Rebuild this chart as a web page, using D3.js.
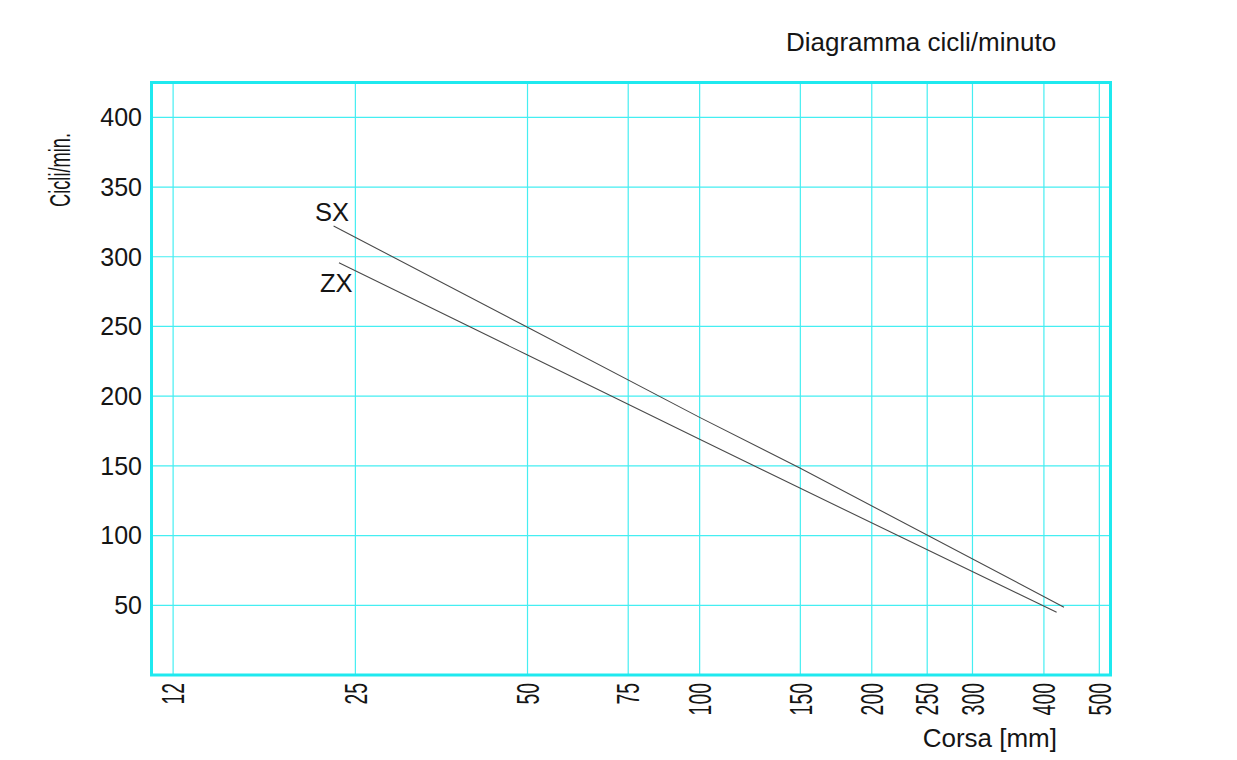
<!DOCTYPE html>
<html>
<head>
<meta charset="utf-8">
<script src="https://cdn.jsdelivr.net/npm/d3@7"></script>
<style>
  html, body { margin: 0; padding: 0; background: #ffffff; }
  svg { display: block; }
  text { font-family: "Liberation Sans", Arial, sans-serif; fill: #151515; }
</style>
</head>
<body>
<svg id="chart" width="1237" height="760"></svg>
<script>
// ---- data ----
const xTicks = [12, 25, 50, 75, 100, 150, 200, 250, 300, 400, 500];
const yTicks = [50, 100, 150, 200, 250, 300, 350, 400];
const sxStroke = [22.9, 50, 100, 150, 433.7];
const sxCycles = [322.1, 249.4, 184.8, 148.3, 48.6];
const zxStroke = [23.4, 50, 100, 150, 421];
const zxCycles = [295.7, 229.5, 169.1, 133.9, 45.0];
const seriesNames = ["SX", "ZX"];
const titleText = "Diagramma cicli/minuto";
const xLabel = "Corsa [mm]";
const yLabel = "Cicli/min.";

// ---- layout ----
const svg = d3.select("#chart");
const pLeft = 151.5, pRight = 1110.5, pTop = 82.5, pBottom = 675;
const x = d3.scaleLog().domain([11, 523]).range([pLeft, pRight]);
const y = d3.scaleLinear().domain([0, 425]).range([pBottom, pTop]);

const gridColor = "#45eef2";
const frameColor = "#1fe9ef";

// grid
const g = svg.append("g");
g.selectAll("line.vg").data(xTicks).join("line")
  .attr("x1", d => x(d)).attr("x2", d => x(d))
  .attr("y1", pTop).attr("y2", pBottom)
  .attr("stroke", gridColor).attr("stroke-width", 1.2);
g.selectAll("line.hg").data(yTicks).join("line")
  .attr("x1", pLeft).attr("x2", pRight)
  .attr("y1", d => y(d)).attr("y2", d => y(d))
  .attr("stroke", gridColor).attr("stroke-width", 1.2);

// frame
svg.append("rect")
  .attr("x", pLeft).attr("y", pTop)
  .attr("width", pRight - pLeft).attr("height", pBottom - pTop)
  .attr("fill", "none").attr("stroke", frameColor).attr("stroke-width", 3);

// y tick labels
svg.selectAll("text.yt").data(yTicks).join("text")
  .attr("x", 142).attr("y", d => y(d))
  .attr("dy", "0.35em")
  .attr("text-anchor", "end")
  .attr("font-size", 25)
  .text(d => d);

// x tick labels (rotated, condensed)
svg.selectAll("text.xt").data(xTicks).join("text")
  .attr("transform", d => `translate(${x(d)},683) rotate(-90)`)
  .attr("dy", "0.36em")
  .attr("text-anchor", "end")
  .attr("font-size", 31)
  .attr("textLength", d => String(d).length * 10.8)
  .attr("lengthAdjust", "spacingAndGlyphs")
  .text(d => d);

// lines
const line = d3.line().x(d => x(d[0])).y(d => y(d[1]));
const series = [
  d3.zip(sxStroke, sxCycles),
  d3.zip(zxStroke, zxCycles)
];
svg.selectAll("path.series").data(series).join("path")
  .attr("d", line)
  .attr("fill", "none")
  .attr("stroke", "#4a4a4a")
  .attr("stroke-width", 1.1);

// series labels
svg.append("text").attr("x", 315).attr("y", 221)
  .attr("font-size", 25.5).text(seriesNames[0]);
svg.append("text").attr("x", 320).attr("y", 292)
  .attr("font-size", 25.5).text(seriesNames[1]);

// title
svg.append("text").attr("x", 921).attr("y", 51)
  .attr("text-anchor", "middle").attr("font-size", 26)
  .text(titleText);

// x axis label
svg.append("text").attr("x", 1057).attr("y", 747)
  .attr("text-anchor", "end").attr("font-size", 26)
  .text(xLabel);

// y axis label (rotated, condensed)
svg.append("text")
  .attr("transform", "translate(70,170) rotate(-90)")
  .attr("text-anchor", "middle")
  .attr("font-size", 29)
  .attr("textLength", 74)
  .attr("lengthAdjust", "spacingAndGlyphs")
  .text(yLabel);
</script>
</body>
</html>
